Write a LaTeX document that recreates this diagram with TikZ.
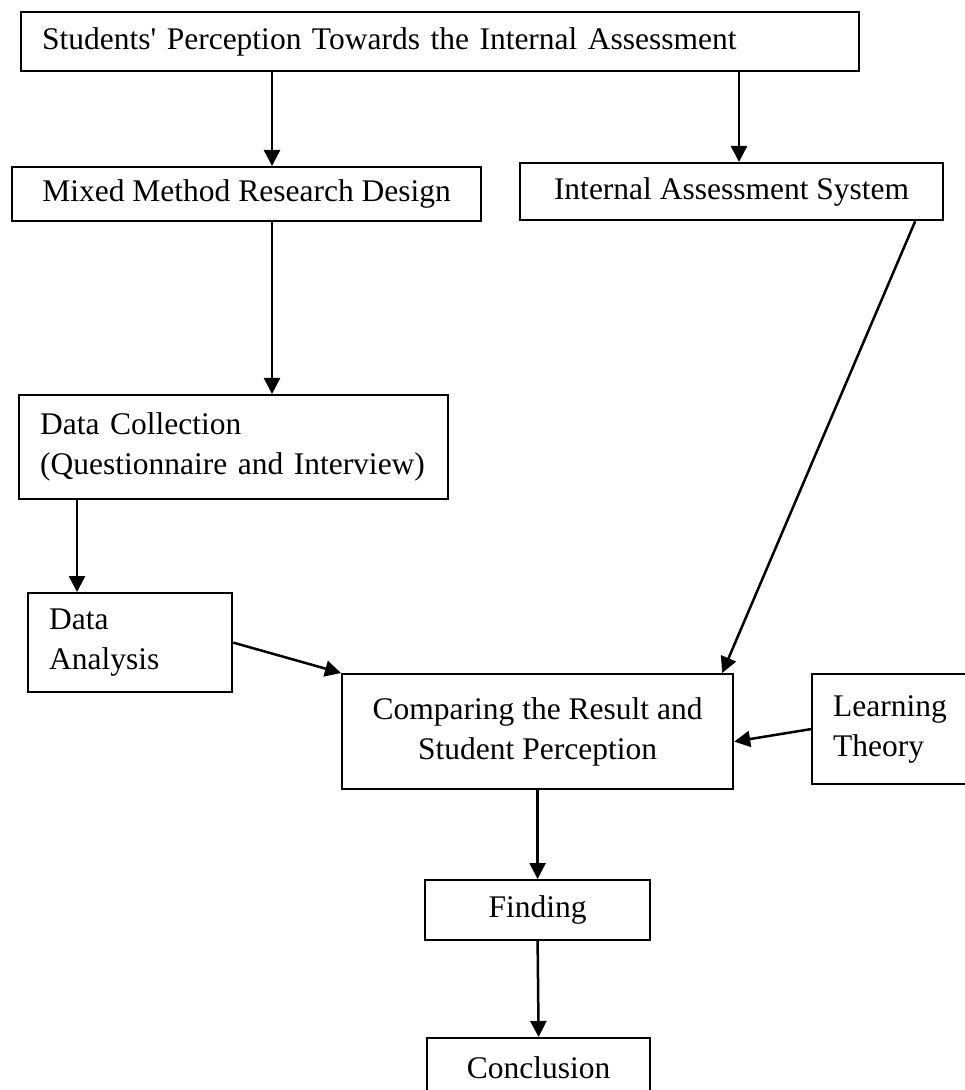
\documentclass[tikz,border=0pt]{standalone}
\usepackage{fontspec}
\setmainfont{Liberation Serif}
\usetikzlibrary{arrows.meta,calc}

\begin{document}
\begin{tikzpicture}[x=0.5pt,y=-0.5pt,
    box/.style={draw,line width=1.1pt,rectangle,anchor=north west,inner xsep=10.5pt,
        font=\fontsize{15.75pt}{20pt}\selectfont},
    arr/.style={line width=1.25pt,-{Triangle[length=8pt,width=8pt]}}]
    \useasboundingbox (0,0) rectangle (964,1090);
    \node[box,align=left,text width=398pt,minimum height=29.5pt] (perc) at (20,11)
        {Students\textquotesingle{} Perception Towards the Internal Assessment};
    \node[box,minimum width=234.5pt,minimum height=27pt] (mixed) at (11,166)
        {Mixed Method Research Design};
    \node[box,minimum width=211.5pt,minimum height=28.5pt] (ias) at (519,162)
        {Internal Assessment System};
    \node[box,align=left,text width=193.5pt,minimum height=52pt] (coll) at (18,394)
        {Data Collection\\(Questionnaire and Interview)};
    \node[box,align=left,text width=81pt,minimum height=49.5pt] (anal) at (27,592)
        {Data\\Analysis};
    \node[box,align=center,minimum width=195.5pt,minimum height=57.5pt] (comp) at (341,673)
        {Comparing the Result and\\Student Perception};
    \node[box,align=left,text width=62pt,minimum height=55pt] (learn) at (811,673)
        {Learning\\Theory};
    \node[box,minimum width=112.5pt,minimum height=30pt] (find) at (424,879) {Finding};
    \node[box,minimum width=111.5pt,minimum height=30pt] (concl) at (426,1037) {Conclusion};
    % arrow positions
    \coordinate (m1) at (272,0);
    \coordinate (i1) at (739,0);
    \coordinate (c1) at (77,0);
    \draw[arr] (perc.south -| m1) -- (mixed.north -| m1);
    \draw[arr] (perc.south -| i1) -- (ias.north -| i1);
    \draw[arr] (mixed.south -| m1) -- (coll.north -| m1);
    \draw[arr] (coll.south -| c1) -- (anal.north -| c1);
    \draw[arr] (anal.east) -- (comp.north west);
    \draw[arr] ($(ias.south east)+(-29,0)$) -- ($(comp.north east)+(-12,0)$);
    \draw[arr] (learn.west) -- ($(comp.east)+(0,10)$);
    \draw[arr] (comp.south) -- (find.north);
    \draw[arr] (find.south) -- (concl.north);
\end{tikzpicture}
\end{document}
